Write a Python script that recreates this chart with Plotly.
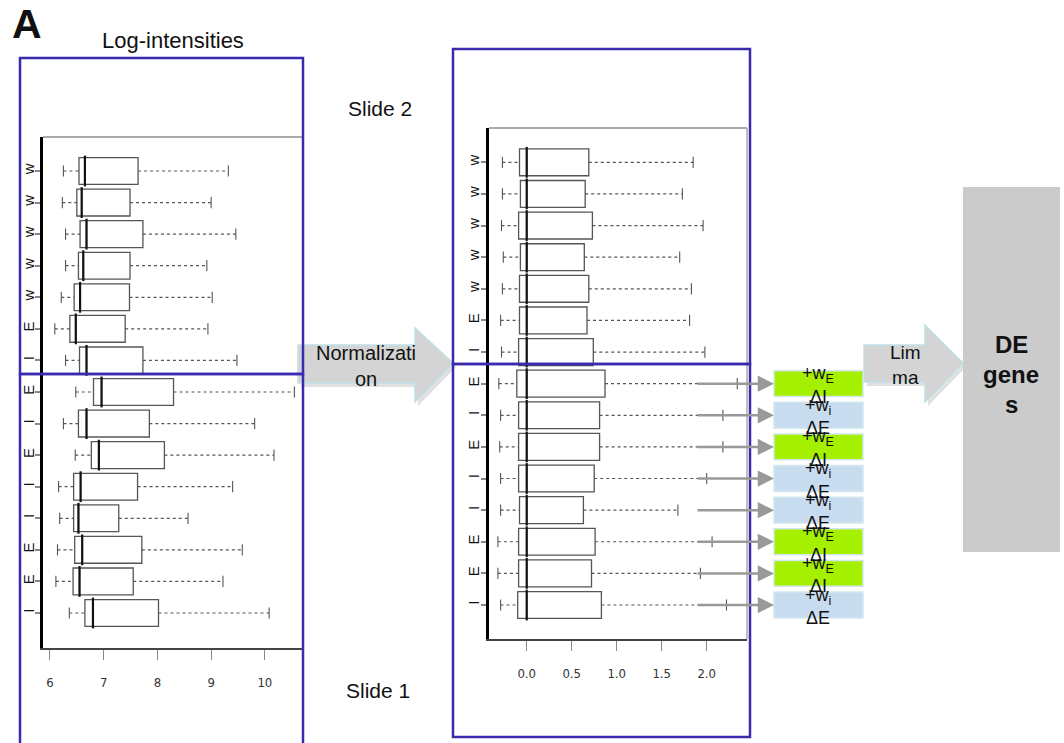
import plotly.graph_objects as go

W, H = 1064, 743

# ---------------- data ----------------
rows = [1, 2, 3, 4, 5, 6, 7, 8, 9, 10, 11, 12, 13, 14, 15]
row_labels = ["w", "w", "w", "w", "w", "E", "I", "E", "I", "E", "I", "I", "E", "E", "I"]

# Log-intensities (left panel)
L_wl = [6.25, 6.23, 6.29, 6.29, 6.21, 6.09, 6.29, 6.48, 6.25, 6.47, 6.16, 6.18, 6.14, 6.11, 6.36]
L_q1 = [6.54, 6.50, 6.56, 6.53, 6.45, 6.37, 6.55, 6.81, 6.53, 6.77, 6.44, 6.44, 6.46, 6.43, 6.65]
L_med = [6.65, 6.59, 6.68, 6.62, 6.56, 6.48, 6.68, 6.96, 6.68, 6.91, 6.57, 6.53, 6.60, 6.55, 6.80]
L_q3 = [7.64, 7.49, 7.73, 7.49, 7.48, 7.40, 7.73, 8.30, 7.85, 8.13, 7.63, 7.28, 7.71, 7.55, 8.02]
L_wr = [9.32, 9.00, 9.46, 8.92, 9.02, 8.94, 9.48, 10.55, 9.81, 10.17, 9.40, 8.57, 9.58, 9.22, 10.08]
L_ticks = [6, 7, 8, 9, 10]

# Normalized (right panel)
R_wl = [-0.27, -0.27, -0.28, -0.26, -0.27, -0.29, -0.28, -0.31, -0.29, -0.30, -0.29, -0.29, -0.32, -0.32, -0.29]
R_q1 = [-0.08, -0.07, -0.09, -0.07, -0.08, -0.08, -0.09, -0.11, -0.09, -0.09, -0.09, -0.08, -0.09, -0.09, -0.10]
R_med = [0.0, 0.0, 0.0, 0.0, 0.0, 0.0, 0.0, 0.0, 0.0, 0.0, 0.0, 0.0, 0.0, 0.0, 0.0]
R_q3 = [0.69, 0.65, 0.73, 0.64, 0.69, 0.67, 0.74, 0.87, 0.81, 0.81, 0.75, 0.63, 0.76, 0.72, 0.83]
R_wr = [1.85, 1.73, 1.96, 1.70, 1.83, 1.81, 1.98, 2.34, 2.18, 2.18, 2.00, 1.68, 2.06, 1.93, 2.22]
R_ticks = [0.0, 0.5, 1.0, 1.5, 2.0]
R_ticktext = ["0.0", "0.5", "1.0", "1.5", "2.0"]

# Slide-1 weights (rows 8..15)
weight_rows = [8, 9, 10, 11, 12, 13, 14, 15]
weight_type = ["E", "I", "E", "I", "I", "E", "E", "I"]
weight_top = {"E": "+w<sub>E</sub>", "I": "+w<sub>i</sub>"}
weight_bottom = {"E": "ΔI", "I": "ΔE"}
weight_fill = {"E": "#a4f000", "I": "#c8dcef"}

# ---------------- helpers ----------------
def px(x):
    return x / W

def py(y):
    return 1 - y / H

BLUE = "#3a2aae"
BOX_LINE = "#555555"

fig = go.Figure()

def add_panel(xa, ya, wl, q1, med, q3, wr):
    fig.add_trace(go.Box(
        orientation="h", y=rows, q1=q1, median=med, q3=q3,
        lowerfence=q1, upperfence=q3, width=0.85,
        fillcolor="white", line=dict(color=BOX_LINE, width=1.3),
        boxpoints=False, xaxis=xa, yaxis=ya, hoverinfo="skip",
    ))
    wx, wy = [], []
    for i, r in enumerate(rows):
        wx += [wl[i], q1[i], None, q3[i], wr[i], None]
        wy += [r, r, None, r, r, None]
    fig.add_trace(go.Scatter(
        x=wx, y=wy, mode="lines", line=dict(color="#555555", width=1.2, dash="dot"),
        xaxis=xa, yaxis=ya, hoverinfo="skip",
    ))
    fig.add_trace(go.Scatter(
        x=wl + wr, y=rows + rows, mode="markers",
        marker=dict(symbol="line-ns", size=8, line=dict(color="#555555", width=1.1)),
        xaxis=xa, yaxis=ya, hoverinfo="skip",
    ))
    fig.add_trace(go.Scatter(
        x=med, y=rows, mode="markers",
        marker=dict(symbol="line-ns", size=22, line=dict(color="#111111", width=2.2)),
        xaxis=xa, yaxis=ya, hoverinfo="skip",
    ))

add_panel("x", "y", L_wl, L_q1, L_med, L_q3, L_wr)
add_panel("x2", "y2", R_wl, R_q1, R_med, R_q3, R_wr)

tickfont_x = dict(family="Liberation Sans Narrow, DejaVu Sans Condensed, Arial Narrow, Liberation Sans, sans-serif",
                  size=13, color="#333333")
tickfont_y = dict(family="Liberation Sans, Arial, sans-serif", size=15, color="#111111")

common_x = dict(showgrid=False, zeroline=False, showline=True, linecolor="#444444", linewidth=1.5,
                ticks="outside", ticklen=10, tickcolor="#888888", tickwidth=1,
                tickfont=tickfont_x, ticklabelstandoff=12)
common_y = dict(showgrid=False, zeroline=False, showline=True, linecolor="#000000", linewidth=3,
                ticks="outside", ticklen=5, tickcolor="#888888", tickwidth=1.5,
                tickmode="array", tickvals=rows, ticktext=row_labels, tickangle=-90,
                tickfont=tickfont_y)

fig.update_layout(
    width=W, height=H, margin=dict(l=0, r=0, t=0, b=0),
    paper_bgcolor="white", plot_bgcolor="white", showlegend=False, hovermode=False,
    xaxis=dict(domain=[px(43), px(303)], range=[5.87, 10.71], anchor="y",
               tickmode="array", tickvals=L_ticks, **common_x),
    yaxis=dict(domain=[py(648), py(137)], range=[16.109, -0.077], anchor="x",
               ticklabelstandoff=-5, **common_y),
    xaxis2=dict(domain=[px(489), px(747)], range=[-0.419, 2.448], anchor="y2",
                tickmode="array", tickvals=R_ticks, ticktext=R_ticktext, **common_x),
    yaxis2=dict(domain=[py(639), py(128)], range=[16.075, -0.085], anchor="x2",
                ticklabelstandoff=-4, **common_y),
)

shapes = []

def path_from(points):
    return "M " + " L ".join(f"{px(x):.5f},{py(y):.5f}" for x, y in points) + " Z"

# Normalization and Limma arrows (with soft shadow)
norm_pts = [(298, 345), (415, 345), (415, 328), (453, 363), (415, 402), (415, 383), (298, 383)]
lima_pts = [(864, 345), (925, 345), (925, 325), (963, 363), (925, 402), (925, 382), (864, 382)]
for pts in (norm_pts, lima_pts):
    shadow = [(x + 3, y + 4) for x, y in pts]
    shapes.append(dict(type="path", xref="paper", yref="paper", path=path_from(shadow),
                       fillcolor="rgba(0,0,0,0.12)", line=dict(width=0)))
    shapes.append(dict(type="path", xref="paper", yref="paper", path=path_from(pts),
                       fillcolor="#d4d4d4", line=dict(color="#bfe0e6", width=1.5)))

# gray frame lines of the plotting regions
shapes.append(dict(type="line", xref="paper", yref="paper", x0=px(43), x1=px(303), y0=py(137), y1=py(137),
                   line=dict(color="#aaaaaa", width=2)))
shapes.append(dict(type="line", xref="paper", yref="paper", x0=px(489), x1=px(747), y0=py(128), y1=py(128),
                   line=dict(color="#aaaaaa", width=2)))
shapes.append(dict(type="line", xref="paper", yref="paper", x0=px(747), x1=px(747), y0=py(128), y1=py(639),
                   line=dict(color="#aaaaaa", width=1.5)))

# blue slide frames
for (x0, y0, x1, y1) in [(20, 58, 303, 374), (20, 374, 303, 760), (453, 49, 750, 364), (453, 364, 750, 737)]:
    shapes.append(dict(type="rect", xref="paper", yref="paper", x0=px(x0), x1=px(x1), y0=py(y0), y1=py(y1),
                       line=dict(color=BLUE, width=2.5), fillcolor="rgba(0,0,0,0)"))

# weight boxes
for r, t in zip(weight_rows, weight_type):
    shapes.append(dict(type="rect", xref="paper", yref="y2", x0=px(774), x1=px(863), y0=r - 0.41, y1=r + 0.41,
                       fillcolor=weight_fill[t], line=dict(color="#d2e8ee", width=1.5)))

# DE genes box
shapes.append(dict(type="rect", xref="paper", yref="paper", x0=px(963), x1=px(1060), y0=py(187), y1=py(552),
                   fillcolor="#cbcbcb", line=dict(width=0)))

fig.update_layout(shapes=shapes)

ann = []
txt = dict(family="Liberation Sans, Arial, sans-serif", color="#111111")

def label(x, y, text, size, bold=False, **kw):
    f = dict(txt, size=size)
    t = f"<b>{text}</b>" if bold else text
    d = dict(xref="paper", yref="paper", x=px(x), y=py(y), text=t, showarrow=False,
             xanchor="center", yanchor="middle", font=f)
    d.update(kw)
    ann.append(d)

label(27, 24, "A", 41, bold=True)
label(173, 40, "Log-intensities", 22)
label(380, 108, "Slide 2", 21)
label(378, 690, "Slide 1", 21)
label(366, 366, "Normalizati<br>on", 20)
label(905, 365, "Lim<br>ma", 19)
label(1011, 344, "DE", 24, bold=True)
label(1011, 374, "gene", 24, bold=True)
label(1011, 404, "s", 24, bold=True)

# gray arrows from whiskers to weight boxes, and weight labels
for r, t in zip(weight_rows, weight_type):
    ann.append(dict(xref="paper", yref="y2", x=px(774), y=r, text="", showarrow=True,
                    axref="pixel", ayref="pixel", ax=-78, ay=0, arrowhead=2, arrowsize=1.3,
                    arrowwidth=2.5, arrowcolor="#999999", standoff=0))
    ann.append(dict(xref="paper", yref="y2", x=px(818), y=r, yshift=9, text=weight_top[t],
                    showarrow=False, xanchor="center", yanchor="middle",
                    font=dict(txt, size=18)))
    ann.append(dict(xref="paper", yref="y2", x=px(818), y=r, yshift=-13, text=weight_bottom[t],
                    showarrow=False, xanchor="center", yanchor="middle",
                    font=dict(txt, size=18)))

fig.update_layout(annotations=ann)

fig.write_html("out.html", config={"displayModeBar": False},
               post_script="document.body.style.margin='0px';")
